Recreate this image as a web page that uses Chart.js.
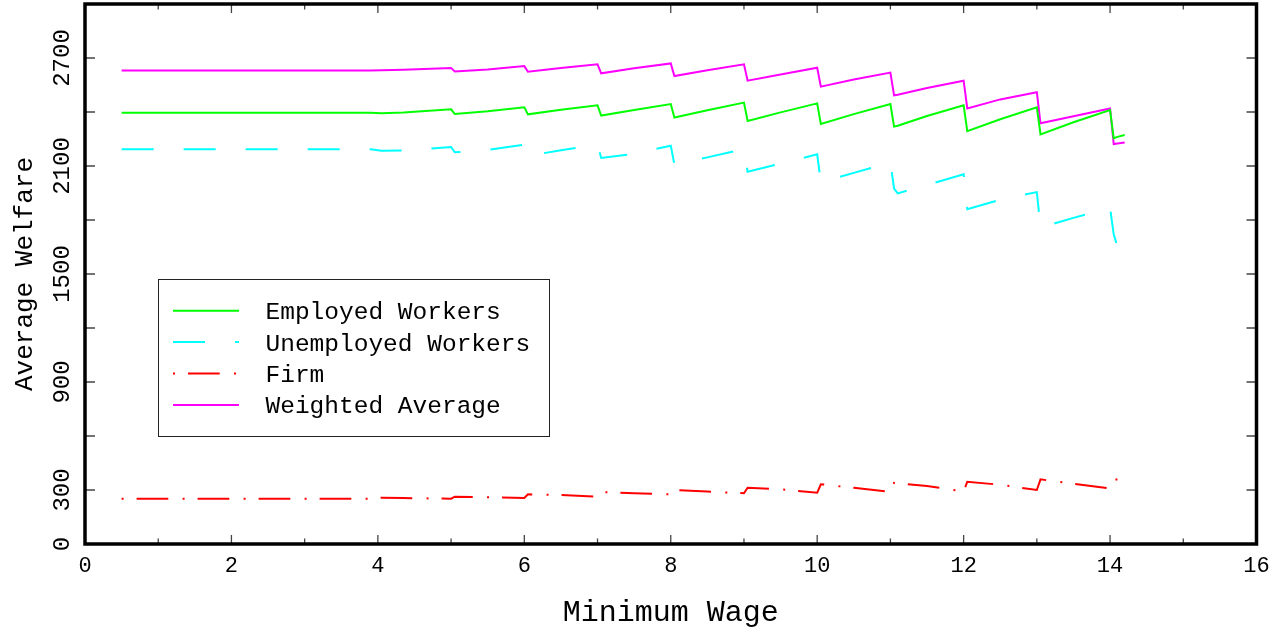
<!DOCTYPE html>
<html>
<head>
<meta charset="utf-8">
<title>Average Welfare vs Minimum Wage</title>
<script src="https://cdn.jsdelivr.net/npm/chart.js@4.4.1/dist/chart.umd.min.js"></script>
<style>
  html, body { margin: 0; padding: 0; background: #fff; }
  canvas { display: block; }
</style>
</head>
<body>
<canvas id="welfare" width="1285" height="634"></canvas>
<script>
// Minimum wage levels (x) at which welfare was evaluated
const wage = [0.5, 3.9, 4.05, 4.35, 5.0, 5.05, 5.5, 6.0, 6.05, 6.5, 7.0, 7.05, 7.5,
  8.0, 8.05, 8.5, 9.0, 9.05, 9.5, 10.0, 10.05, 10.5, 11.0, 11.05, 11.1, 11.5,
  12.0, 12.05, 12.5, 13.0, 13.05, 13.5, 14.0, 14.05, 14.1, 14.2];

// Average welfare of each group
const employed = [2396, 2396, 2393, 2397, 2415, 2389, 2404, 2426, 2387, 2412, 2437, 2380,
  2411, 2444, 2369, 2410, 2452, 2350, 2398, 2448, 2333, 2388, 2444, 2319, 2324, 2378,
  2437, 2294, 2360, 2426, 2276, 2343, 2411, 2254, 2262, 2272];
const unemployed = [2193, 2193, 2185, 2186, 2206, 2176, 2190, 2218, 2157, 2187, 2218, 2145,
  2168, 2213, 2108, 2148, 2194, 2068, 2113, 2165, 2010, 2062, 2120, 1975, 1948, 1995,
  2054, 1860, 1913, 1955, 1758, 1812, 1868, 1720, 1652, 1656];
const firm = [252, 252, 257, 255, 252, 263, 260, 256, 276, 272, 263, 288,
  282, 276, 300, 291, 282, 313, 304, 285, 332, 312, 289, 340, 338, 322,
  292, 346, 329, 300, 359, 335, 309, 355, 360, 368];
const weighted = [2630, 2630, 2632, 2635, 2645, 2625, 2636, 2655, 2624, 2645, 2665, 2615,
  2643, 2670, 2600, 2632, 2665, 2574, 2608, 2646, 2541, 2580, 2619, 2493, 2496, 2533,
  2574, 2420, 2470, 2510, 2337, 2376, 2420, 2222, 2225, 2230];

const seriesNames = ['Employed Workers', 'Unemployed Workers', 'Firm', 'Weighted Average'];

// Axis labelling
const xTickStep = 2;
const yTickStep = 300;
const yLabelled = [0, 300, 900, 1500, 2100, 2700];
const xTitle = 'Minimum Wage';
const yTitle = 'Average Welfare';

const FONT = "'Liberation Mono', 'Courier New', monospace";

const pts = vals => wage.map((w, i) => ({ x: w, y: vals[i] }));

// Inner tick marks on all four sides plus the heavy frame
const frameTicks = {
  id: 'frameTicks',
  afterDraw(chart) {
    const { ctx, chartArea: a, scales: { x, y } } = chart;
    ctx.save();
    ctx.strokeStyle = '#444';
    ctx.lineWidth = 1.3;
    ctx.beginPath();
    for (let v = Math.ceil(x.min) + 1; v < x.max; v++) {
      const px = x.getPixelForValue(v);
      const len = v % 2 === 0 ? 9 : 5.5;
      ctx.moveTo(px, a.bottom); ctx.lineTo(px, a.bottom - len);
      ctx.moveTo(px, a.top); ctx.lineTo(px, a.top + len);
    }
    y.ticks.forEach(t => {
      if (t.value <= y.min || t.value >= y.max) return;
      const py = y.getPixelForValue(t.value);
      ctx.moveTo(a.left, py); ctx.lineTo(a.left + 10, py);
      ctx.moveTo(a.right, py); ctx.lineTo(a.right - 10, py);
    });
    ctx.stroke();
    ctx.strokeStyle = '#000';
    ctx.lineWidth = 3.5;
    ctx.strokeRect(a.left, a.top, a.right - a.left, a.bottom - a.top);
    ctx.restore();
  }
};

// Boxed legend placed inside the plot
const boxLegend = {
  id: 'boxLegend',
  afterDraw(chart, args, o) {
    const ctx = chart.ctx;
    ctx.save();
    ctx.fillStyle = '#fff';
    ctx.fillRect(o.left, o.top, o.width, o.height);
    ctx.strokeStyle = '#222';
    ctx.lineWidth = 1;
    ctx.strokeRect(o.left + 0.5, o.top + 0.5, o.width, o.height);
    ctx.font = o.fontSize + 'px ' + FONT;
    ctx.textBaseline = 'alphabetic';
    ctx.textAlign = 'left';
    chart.data.datasets.forEach((ds, i) => {
      const yy = o.rowStart + i * o.rowGap;
      ctx.beginPath();
      ctx.setLineDash(ds.borderDash || []);
      ctx.lineDashOffset = 0;
      ctx.strokeStyle = ds.borderColor;
      ctx.lineWidth = ds.borderWidth;
      ctx.moveTo(o.sampleX, yy);
      ctx.lineTo(o.sampleX + o.sampleLen, yy);
      ctx.stroke();
      ctx.setLineDash([]);
      ctx.fillStyle = '#000';
      ctx.fillText(ds.label, o.textX, yy + 8.5);
    });
    ctx.restore();
  }
};

const line = (label, vals, color, dash) => ({
  label,
  data: pts(vals),
  borderColor: color,
  backgroundColor: color,
  borderWidth: 2,
  borderDash: dash,
  pointRadius: 0,
  tension: 0,
  fill: false
});

// keep the plot box fixed: no extra room for half-labels at the axis ends
const noEndPadding = s => {
  s.paddingTop = 0; s.paddingBottom = 0; s.paddingLeft = 0; s.paddingRight = 0;
};

new Chart(document.getElementById('welfare'), {
  type: 'line',
  data: {
    datasets: [
      line(seriesNames[0], employed, '#00ff00', []),
      line(seriesNames[1], unemployed, '#00ffff', [32, 30]),
      line(seriesNames[2], firm, '#ff0000', [2, 13, 31.7, 14.3]),
      line(seriesNames[3], weighted, '#ff00ff', [])
    ]
  },
  options: {
    responsive: false,
    animation: false,
    events: [],
    layout: { padding: { left: 0, right: 28.5, top: 4, bottom: 0 } },
    plugins: {
      legend: { display: false },
      tooltip: { enabled: false },
      boxLegend: {
        left: 158, top: 279, width: 391, height: 157,
        rowStart: 310.7, rowGap: 31.4,
        sampleX: 173, sampleLen: 66, textX: 265.5, fontSize: 24.5
      }
    },
    scales: {
      x: {
        type: 'linear',
        min: 0, max: 16,
        grid: { display: false, drawTicks: false },
        border: { display: false },
        ticks: {
          stepSize: xTickStep,
          maxRotation: 0, minRotation: 0,
          padding: 9,
          color: '#000',
          font: { family: FONT, size: 22 }
        },
        title: {
          display: true, text: xTitle, color: '#000',
          font: { family: FONT, size: 30 },
          padding: { top: 0, bottom: 3 }
        },
        afterFit: s => { s.height = 90; noEndPadding(s); }
      },
      y: {
        type: 'linear',
        min: 0, max: 3000,
        grid: { display: false, drawTicks: false },
        border: { display: false },
        ticks: {
          stepSize: yTickStep,
          autoSkip: false,
          minRotation: 90, maxRotation: 90,
          crossAlign: 'center',
          padding: -6,
          color: '#000',
          font: { family: FONT, size: 24 },
          callback: v => (yLabelled.includes(v) ? String(v) : '')
        },
        title: {
          display: true, text: yTitle, color: '#000',
          font: { family: FONT, size: 26 },
          padding: { top: 10, bottom: 0 }
        },
        afterFit: s => { s.width = 85; noEndPadding(s); }
      }
    }
  },
  plugins: [frameTicks, boxLegend]
});
</script>
</body>
</html>
